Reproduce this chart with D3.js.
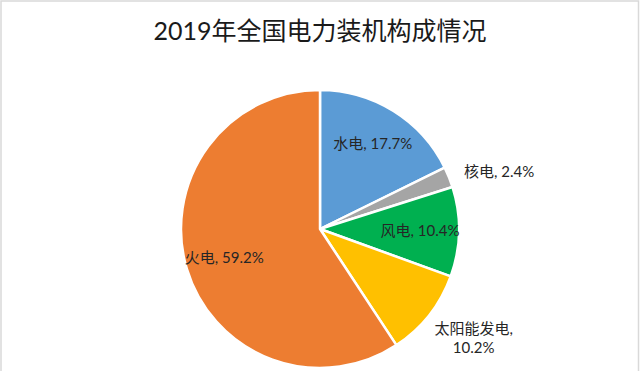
<!DOCTYPE html>
<html><head><meta charset="utf-8">
<script src="https://cdn.jsdelivr.net/npm/d3@7/dist/d3.min.js"></script>
<style>
html,body{margin:0;padding:0;background:#fff;}
svg{display:block;}
</style></head>
<body>
<svg id="chart" width="640" height="371"></svg>
<script>
const title = "2019年全国电力装机构成情况";
const categories = ["水电", "核电", "风电", "太阳能发电", "火电"];
const values = [17.7, 2.4, 10.4, 10.2, 59.2];
const colors = ["#5B9BD5", "#A5A5A5", "#00B050", "#FFC000", "#ED7D31"];
const labelInside = [true, false, true, false, true];

const W = 640, H = 371;
const cx = 320, cy = 229, R = 139;
const svg = d3.select("#chart");
const FONT = "Lato, 'Noto Sans CJK SC', sans-serif";

// border
svg.append("rect").attr("x", 1).attr("y", 1).attr("width", W - 2.5).attr("height", H + 10)
  .attr("fill", "none").attr("stroke", "#d9d9d9").attr("stroke-width", 1.5);

svg.append("text").attr("x", 320).attr("y", 40).attr("text-anchor", "middle")
  .attr("font-family", FONT).attr("font-size", 25).attr("fill", "#1a1a1a").text(title);

const data = categories.map((c, i) => ({cat: c, value: values[i], color: colors[i], inside: labelInside[i]}));
const pie = d3.pie().sort(null).value(d => d.value);
const arcs = pie(data);
const arc = d3.arc().innerRadius(0).outerRadius(R);
const g = svg.append("g").attr("transform", `translate(${cx},${cy})`);

g.selectAll("path").data(arcs).enter().append("path")
  .attr("d", arc).attr("fill", d => d.data.color)
  .attr("stroke", "#fff").attr("stroke-width", 2.5).attr("stroke-linejoin", "round");

const inArc = d3.arc().innerRadius(100).outerRadius(100);
const outArc = d3.arc().innerRadius(R + 14).outerRadius(R + 14);
const fs = 15, lh = 19;

arcs.forEach(a => {
  const d = a.data;
  const pct = d.value.toFixed(1) + "%";
  if (d.inside) {
    const [x, y] = inArc.centroid(a);
    g.append("text").attr("x", x).attr("y", y).attr("dy", "0.35em")
      .attr("text-anchor", "middle").attr("font-family", FONT).attr("font-size", fs)
      .attr("fill", "#262626").text(`${d.cat}, ${pct}`);
  } else {
    const [x, y] = outArc.centroid(a);
    const mid = (a.startAngle + a.endAngle) / 2;
    const lines = d.cat.length > 3 ? [d.cat + ",", pct] : [`${d.cat}, ${pct}`];
    const h = lines.length * lh;
    const shift = Math.max(0, -Math.cos(mid)) * h * 0.6;
    const top = y + shift - h / 2;
    const t = g.append("text").attr("font-family", FONT).attr("font-size", fs).attr("fill", "#262626");
    if (lines.length === 1) {
      t.attr("x", x + 2).attr("y", top + lh / 2).attr("dy", "0.35em").attr("text-anchor", "start").text(lines[0]);
    } else {
      const w0 = fs * d.cat.length + 4;
      const cxl = x - 6 + w0 / 2;
      lines.forEach((ln, i) => {
        t.append("tspan").attr("x", cxl).attr("y", top + lh / 2 + i * lh).attr("dy", "0.35em")
          .attr("text-anchor", "middle").text(ln);
      });
    }
  }
});
</script>
</body></html>
